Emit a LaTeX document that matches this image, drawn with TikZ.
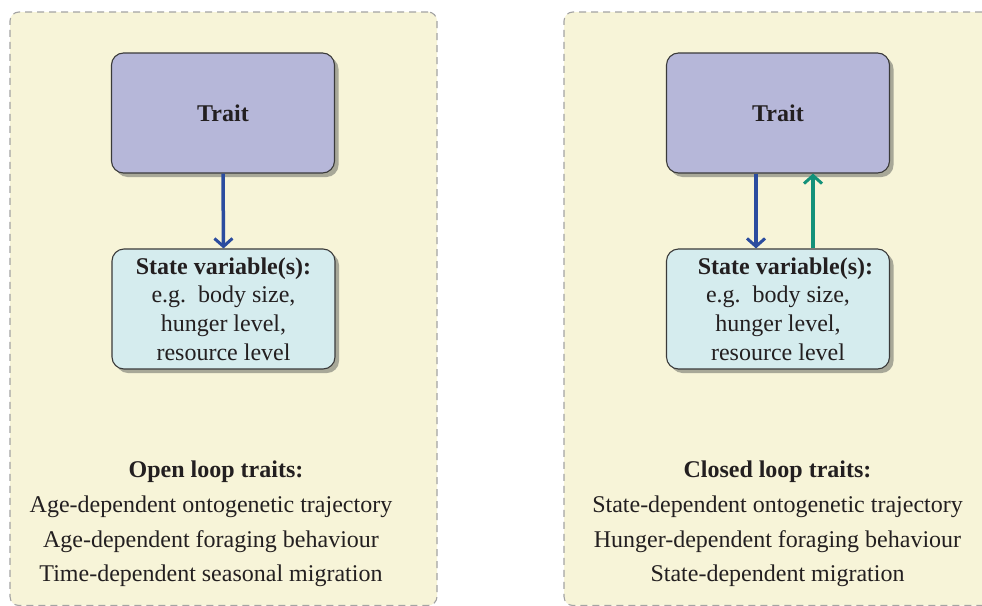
\documentclass[tikz,border=0pt]{standalone}
\usepackage{fontspec}
\setmainfont{Liberation Serif}
\usetikzlibrary{arrows.meta,shadows}
\definecolor{panelfill}{HTML}{F7F4D8}
\definecolor{paneldash}{HTML}{A3A3A3}
\definecolor{traitfill}{HTML}{B6B7D9}
\definecolor{statefill}{HTML}{D5ECEE}
\definecolor{boxborder}{HTML}{3A3A3A}
\definecolor{shadowc}{HTML}{A8A898}
\definecolor{arrblue}{HTML}{2B4C9F}
\definecolor{arrgreen}{HTML}{13917A}
\definecolor{textc}{HTML}{231F20}
\tikzset{
  panel/.style={draw=paneldash, fill=panelfill, dash pattern=on 7pt off 5pt, line width=1.1pt,
    rounded corners=9pt, minimum width=427pt, minimum height=593.5pt, inner sep=0pt},
  box/.style={draw=boxborder, line width=1.1pt, rounded corners=12pt, text=textc,
    general shadow={fill=shadowc, shadow xshift=4pt, shadow yshift=-4pt},
    minimum width=223pt, minimum height=120pt, align=center, inner sep=0pt,
    font=\fontsize{24}{28.7}\selectfont},
  traitbox/.style={box, fill=traitfill, font=\fontsize{24}{28}\selectfont\bfseries},
  statebox/.style={box, fill=statefill},
  listtext/.style={align=center, inner sep=0pt, text=textc, font=\fontsize{24}{34.7}\selectfont},
  bluearr/.style={draw=arrblue, line width=3.5pt, -{Straight Barb[length=8pt,width=18pt,line width=3pt]}},
  greenarr/.style={draw=arrgreen, line width=3.5pt, -{Straight Barb[length=8pt,width=18pt,line width=3pt]}}
}
\begin{document}
\begin{tikzpicture}[x=1pt,y=-1pt]
\useasboundingbox (0,0) rectangle (982,605);
\clip (0,0) rectangle (982,605);
\fill[white] (0,0) rectangle (982,605);
% panels
\node[panel] (lp) at (223.5,308.75) {};
\node[panel] (rp) at (777.5,308.75) {};
% left
\node[traitbox] (lt) at (223,113) {Trait};
\node[statebox] (ls) at (223.5,309) {\textbf{State variable(s):}\\e.g.\ \ body size,\\hunger level,\\resource level};
\draw[bluearr] (lt.south) -- (ls.north);
\node[listtext] (ll) at (211,524) {\hspace*{10pt}\textbf{Open loop traits:}\\Age-dependent ontogenetic trajectory\\Age-dependent foraging behaviour\\Time-dependent seasonal migration};
% right
\node[traitbox] (rt) at (778,113) {Trait};
\node[statebox] (rs) at (778,309) {\hspace*{15pt}\textbf{State variable(s):}\\e.g.\ \ body size,\\hunger level,\\resource level};
\draw[bluearr] ([xshift=-22pt]rt.south) -- ([xshift=-22pt]rs.north);
\draw[greenarr] ([xshift=35pt]rs.north) -- ([xshift=35pt]rt.south);
\node[listtext] (rl) at (777.5,524) {\textbf{Closed loop traits:}\\State-dependent ontogenetic trajectory\\Hunger-dependent foraging behaviour\\State-dependent migration};
\end{tikzpicture}
\end{document}
